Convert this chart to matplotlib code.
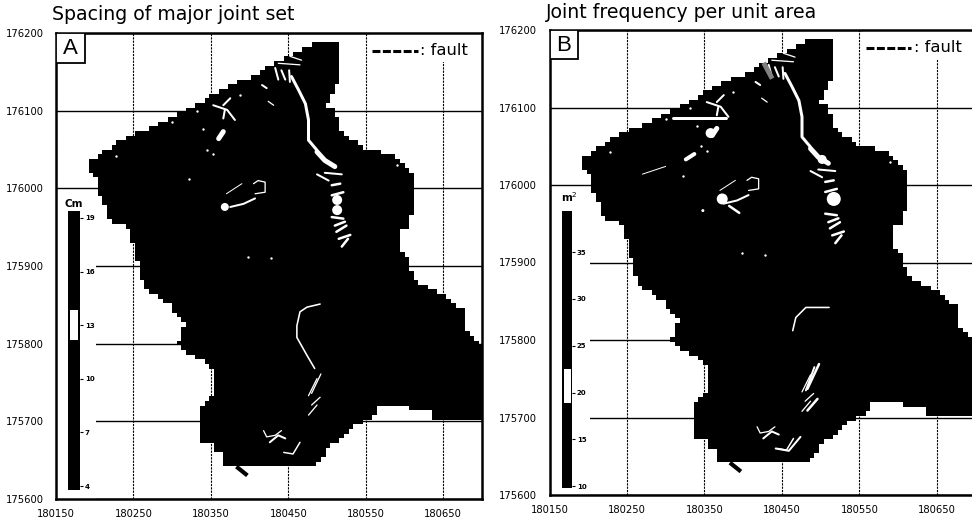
# -*- coding: utf-8 -*-
import numpy as np
import matplotlib
matplotlib.use('Agg')
import matplotlib.pyplot as plt
from matplotlib.patches import Rectangle
from matplotlib.path import Path
from matplotlib.colors import ListedColormap

#%% data
x_ticks = [180150,180250,180350,180450,180550,180650]
y_ticks = [175600,175700,175800,175900,176000,176100,176200]

#outline of the mapped area, clockwise from the north peak
outline_x = [180486,180510,180517,180517,180504,180497,180508,180517,180534,180547,180564,180590,180613,180613,180611,180605,180596,180596,180607,
             180607,180620,180650,180676,180680,180697,180701,180701,180637,180635,180607,180607,180570,180555,180534,180521,180497,180486,
             180368,180368,180351,180351,180338,180336,180338,180353,180353,180336,180317,180308,180310,180317,180297,180267,180259,180259,
             180250,180248,180220,180211,180205,180207,180190,180190,180207,180224,180250,180280,180302,180336,180370,180405,180426,180456]
outline_y = [176188,176191,176178,176143,176118,176103,176103,176079,176062,176051,176049,176040,176019,176002,175976,175950,175950,175916,175912,
             175896,175877,175862,175843,175815,175802,175793,175703,175703,175714,175714,175723,175721,175703,175695,175682,175660,175643,
             175642,175660,175663,175671,175671,175703,175721,175733,175763,175781,175791,175800,175813,175828,175849,175871,175884,175905,
             175912,175946,175959,175980,175997,176008,176023,176032,176045,176055,176070,176081,176094,176111,176130,176145,176158,176173]

tip_x = [180385,180395]
tip_y = [175640,175632]

#white streaks on the map: (x list, y list, width in px)
streaks_common = [
    ([180433,180437],[176155,176140],2),
    ([180441,180446],[176152,176140],2),
    ([180451,180452],[176152,176137],2),
    ([180437,180465],[176161,176159],1.3),
    ([180452,180467],[176170,176165],1.3),
    ([180454,180463,180472,180476,180476,180487],[176144,176127,176109,176088,176062,176049],3),
    ([180353,180371,180381],[176107,176101,176088],2),
    ([180368,180366],[176101,176090],2),
    ([180375,180366],[176116,176107],2),
    ([180360,180366],[176064,176073],5),
    ([180416,180422],[176133,176129],2),
    ([180424,180431],[176112,176107],1.3),
    ([180487,180497,180510],[176047,176036,176028],5),
    ([180487,180502],[176018,176010],2),
    ([180497,180519],[176020,176018],2),
    ([180506,180517],[176004,176006],2.5),
    ([180506,180521],[175991,175995],2.5),
    ([180506,180521],[175963,175961],2.5),
    ([180510,180523],[175952,175957],2.5),
    ([180512,180525],[175944,175952],2.5),
    ([180515,180530],[175935,175940],2.5),
    ([180519,180527],[175925,175935],2.5),
    ([180375,180392,180407],[175976,175980,175987],2),
    ([180405,180411,180420,180420,180407],[176006,176010,176008,175995,175993],1.3),
    ([180370,180390],[175993,176006],1),
    ([180487,180476],[175755,175733],1.3),
    ([180491,180480],[175731,175721],1.3),
    ([180487,180476],[175721,175708],1.3),
    ([180418,180422,180433,180441],[175688,175680,175682,175688],1.3),
    ([180426,180437,180446],[175673,175682,175678],2),
    ([180444,180456,180465],[175660,175658,175673],1.5),
]
streaks_a = [
    ([180491,180474,180465,180461,180461,180474,180484],[175851,175847,175841,175823,175808,175785,175768],1.6),
    ([180492,180480],[175761,175736],1.3),
]
streaks_b = [
    ([180326,180337],[176033,176040],4),
    ([180270,180300],[176014,176024],1),
    ([180309,180378],[176087,176087],3),
    ([180382,180395],[175973,175964],2.5),
    ([180464,180468,180481,180511],[175812,175829,175842,175842],1.6),
    ([180498,180483],[175769,175737],2.5),
    ([180492,180481],[175765,175735],2),
    ([180496,180483],[175724,175709],2.5),
    ([180442,180459,180474],[175660,175657,175675],2),
]
grey_b_x = [180428,180436]
grey_b_y = [176155,176140]

#round white patches: x, y, diameter in px
blobs_a_x = [180513,180513,180368]
blobs_a_y = [175985,175972,175976]
blobs_a_d = [10,10,8]
blobs_b_x = [180517,180502,180373,180358,180348]
blobs_b_y = [175982,176033,175982,176067,175967]
blobs_b_d = [14,9,11,10,3]
specks_x = [180353,180398,180428,180228,180322,180340,180332,180300,180345,180387,180590]
specks_y = [176044,175912,175910,176042,176012,176076,176100,176085,176050,176120,176030]

#colour bars
cb_a_ticks = [4,7,10,13,16,19]
cb_a_lim = [3.78,19.39]
cb_a_white = [12.2,13.84]
cb_b_ticks = [10,15,20,25,30,35]
cb_b_lim = [9.8,39.4]
cb_b_white = [18.9,22.5]

#%% plotting
W,H = 972.,523.
cell = 6#size of the map raster cell

def pix_axes(fig,left,top,right,bottom):
    return fig.add_axes([left/W,1-bottom/H,(right-left)/W,(bottom-top)/H])

def panel(fig,box,letter,title,title_xy,cb_box,cb_ticks,cb_lim,cb_white,cb_unit,unit_xy,streaks,bx,by,bd):
    ax = pix_axes(fig,*box)
    ax.set_xlim(180150,180700)
    ax.set_ylim(175600,176200)
    ax.set_xticks(x_ticks)
    ax.set_yticks(y_ticks)
    ax.tick_params(length = 0,labelsize = 7.2)
    ax.tick_params(axis = 'x',pad = 7)
    ax.tick_params(axis = 'y',pad = 9)
    ax.xaxis.grid(True,color = 'k',lw = 0.8,ls = (0,(2,1)))
    ax.yaxis.grid(True,color = 'k',lw = 1.0)
    ax.set_axisbelow(True)
    for s in ax.spines.values():
        s.set_linewidth(1.8)

    #white boxes hiding the grid under the legend and colour bar
    ax.add_patch(Rectangle((180150,175600),52,390,fc = 'w',ec = 'none',zorder = 1))
    ax.add_patch(Rectangle((180555,176163),145,37,fc = 'w',ec = 'none',zorder = 1))

    #the map is a grid, so its edge comes out blocky
    gx = np.arange(180150,180706,cell)
    gy = np.arange(175600,176206,cell)
    cx,cy = np.meshgrid(gx[:-1]+cell/2,gy[:-1]+cell/2)
    inside = Path(np.column_stack([outline_x,outline_y])).contains_points(np.column_stack([cx.ravel(),cy.ravel()]))
    inside = np.ma.masked_where(~inside,np.ones(inside.shape)).reshape(cx.shape)
    ax.pcolormesh(gx,gy,inside,cmap = ListedColormap(['k']),zorder = 2,rasterized = True)
    ax.plot(tip_x,tip_y,color = 'k',lw = 3,zorder = 2)

    for xs,ys,w in streaks:
        ax.plot(xs,ys,color = 'w',lw = w*0.72,solid_capstyle = 'round',zorder = 3)
    ax.scatter(bx,by,s = (np.array(bd)*0.72)**2,color = 'w',lw = 0,zorder = 3)
    ax.scatter(specks_x,specks_y,s = 3,color = 'w',lw = 0,zorder = 3)
    if letter == 'B':
        ax.plot(grey_b_x,grey_b_y,color = '0.5',lw = 3.5,zorder = 3)

    ax.add_patch(Rectangle((180150,176162),37,38,fc = 'w',ec = 'k',lw = 1.3,zorder = 4))
    ax.text(180168,176180,letter,fontsize = 16,family = 'Liberation Sans',ha = 'center',va = 'center',zorder = 5)

    ax.plot([180558,180617],[176177,176177],color = 'k',lw = 2.2,ls = (0,(2.6,0.8)),zorder = 5)
    ax.text(180620,176177,': fault',fontsize = 11.8,va = 'center',zorder = 5)

    fig.text(title_xy[0]/W,1-title_xy[1]/H,title,fontsize = 13.6,va = 'center')

    cb = pix_axes(fig,*cb_box)
    cb.set_facecolor('k')
    cb.set_xticks([])
    cb.set_ylim(cb_lim)
    cb.yaxis.tick_right()
    cb.set_yticks(cb_ticks)
    cb.tick_params(axis = 'y',length = 2,width = 0.8,pad = 1.5,labelsize = 5)
    for lab in cb.get_yticklabels():
        lab.set_fontweight('bold')
    for s in cb.spines.values():
        s.set_visible(False)
    cb.axhspan(cb_white[0],cb_white[1],xmin = 0.15,xmax = 0.85,color = 'w',lw = 0)
    fig.text(unit_xy[0]/W,1-unit_xy[1]/H,cb_unit,fontsize = 7.5,fontweight = 'bold',ha = 'center',va = 'center')
    return ax

fig = plt.figure(figsize = (9.72,5.23),dpi = 100)

panel(fig,(56,33,482,499),'A','Spacing of major joint set',(52,15),(68,211,80,490),
      cb_a_ticks,cb_a_lim,cb_a_white,'Cm',(74,204),streaks_common+streaks_a,blobs_a_x,blobs_a_y,blobs_a_d)
panel(fig,(549.5,30,975.5,495),'B','Joint frequency per unit area',(546,12),(562,211,572,488),
      cb_b_ticks,cb_b_lim,cb_b_white,'m$^2$',(569,197),streaks_common+streaks_b,blobs_b_x,blobs_b_y,blobs_b_d)

plt.savefig('out.png',dpi = 100)
